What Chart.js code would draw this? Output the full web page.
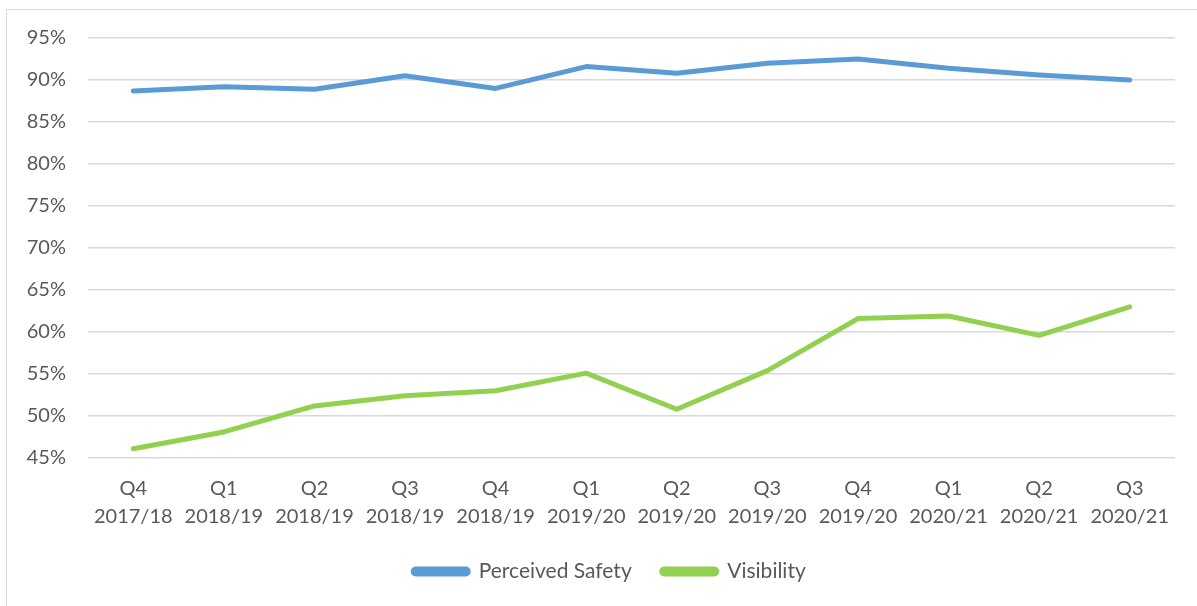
<!DOCTYPE html>
<html>
<head>
<meta charset="utf-8">
<script src="https://cdn.jsdelivr.net/npm/chart.js@4"></script>
<style>
  html, body { margin: 0; padding: 0; background: #fff; }
  #wrap { position: relative; width: 1197px; height: 606px; overflow: hidden; }
  #frame { position: absolute; left: 6px; top: 9px; width: 1200px; height: 610px; border: 1px solid #d9d9d9; box-sizing: border-box; }
  canvas { position: absolute; left: 0; top: 0; }
</style>
</head>
<body>
<div id="wrap">
  <div id="frame"></div>
  <canvas id="c" width="1197" height="606"></canvas>
</div>
<script>
const categories = [
  ["Q4", "2017/18"], ["Q1", "2018/19"], ["Q2", "2018/19"], ["Q3", "2018/19"],
  ["Q4", "2018/19"], ["Q1", "2019/20"], ["Q2", "2019/20"], ["Q3", "2019/20"],
  ["Q4", "2019/20"], ["Q1", "2020/21"], ["Q2", "2020/21"], ["Q3", "2020/21"]
];
const perceivedSafety = [88.7, 89.2, 88.9, 90.5, 89.0, 91.6, 90.8, 92.0, 92.5, 91.4, 90.6, 90.0];
const visibility = [46.1, 48.1, 51.2, 52.4, 53.0, 55.1, 50.8, 55.4, 61.6, 61.9, 59.6, 63.0];
const yMin = 45, yMax = 95, yStep = 5;

const FONT = "Lato, 'Open Sans', sans-serif";
const TXT = "#595959";

const legendShift = {
  id: 'legendShift',
  afterLayout(chart) {
    const lg = chart.legend;
    if (!lg) return;
    const dx = 22;
    lg.left += dx; lg.right += dx;
  }
};

new Chart(document.getElementById('c'), {
  type: 'line',
  data: {
    labels: categories,
    datasets: [
      { label: 'Perceived Safety', data: perceivedSafety, borderColor: '#5B9BD5', backgroundColor: '#5B9BD5',
        borderWidth: 5, pointRadius: 0, tension: 0, borderCapStyle: 'round', borderJoinStyle: 'round' },
      { label: 'Visibility', data: visibility, borderColor: '#92D050', backgroundColor: '#92D050',
        borderWidth: 5, pointRadius: 0, tension: 0, borderCapStyle: 'round', borderJoinStyle: 'round' }
    ]
  },
  plugins: [legendShift],
  options: {
    responsive: false,
    animation: false,
    devicePixelRatio: 1,
    layout: { padding: { left: 0, right: 22, top: 38, bottom: 14 } },
    plugins: {
      tooltip: { enabled: false },
      legend: {
        position: 'bottom',
        labels: {
          font: { family: FONT, size: 21 },
          color: TXT,
          boxWidth: 55,
          boxHeight: 5,
          padding: 30,
          useBorderRadius: true,
          borderRadius: 2.5
        }
      }
    },
    scales: {
      x: {
        offset: true,
        grid: { display: false, drawTicks: false },
        border: { display: false },
        ticks: { font: { family: FONT, size: 20, lineHeight: 1.4 }, color: TXT, padding: 17, maxRotation: 0, autoSkip: false },
        afterFit: (s) => { s.height = 73; }
      },
      y: {
        min: yMin, max: yMax,
        grid: { color: '#d9d9d9', lineWidth: 1.5, drawTicks: false },
        border: { display: false },
        ticks: { stepSize: yStep, font: { family: FONT, size: 20 }, color: TXT, padding: 22,
          callback: (v) => v + '%' },
        afterFit: (s) => { s.width = 88; }
      }
    }
  }
});
</script>
</body>
</html>
